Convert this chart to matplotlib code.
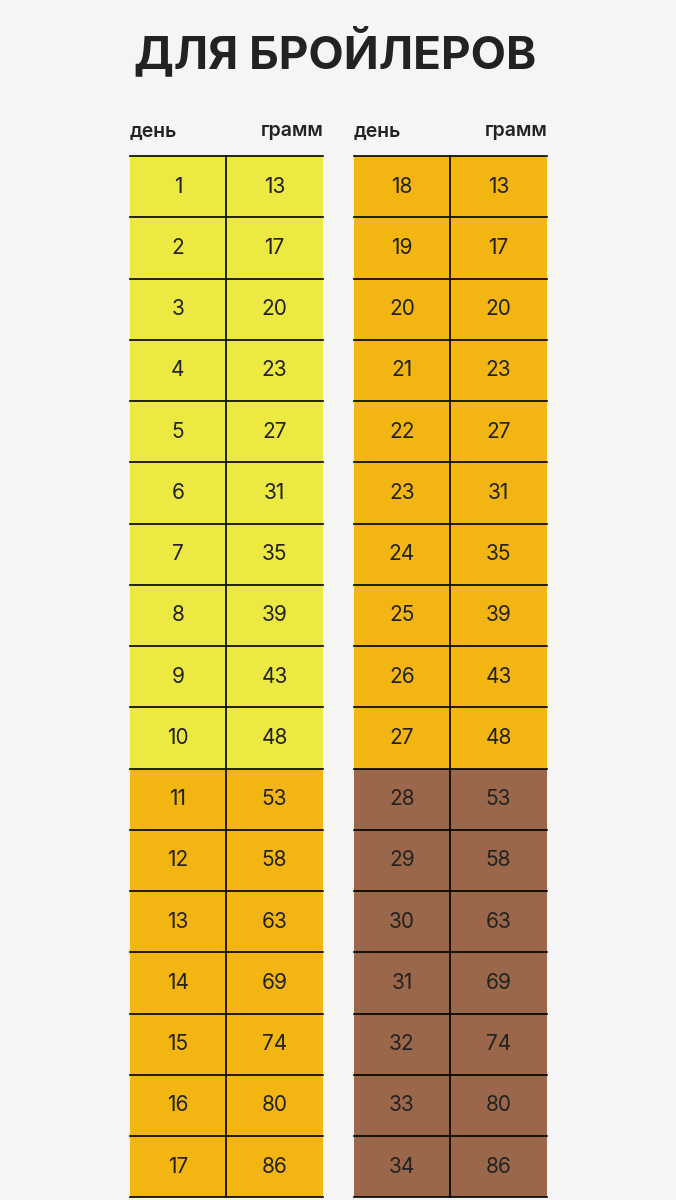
import matplotlib.pyplot as plt
from matplotlib.patches import Rectangle

days_left = list(range(1, 18))
days_right = list(range(18, 35))
grams = [13, 17, 20, 23, 27, 31, 35, 39, 43, 48, 53, 58, 63, 69, 74, 80, 86]
colors_left = ['#ECE942'] * 10 + ['#F2B511'] * 7
colors_right = ['#F2B511'] * 10 + ['#9A674A'] * 7

W, H = 676, 1200
fig = plt.figure(figsize=(W / 100, H / 100), dpi=100)
fig.patch.set_facecolor('#F5F5F5')
ax = fig.add_axes([0, 0, 1, 1])
ax.set_xlim(0, W)
ax.set_ylim(H, 0)
ax.axis('off')

plt.rcParams['font.family'] = ['Inter', 'DejaVu Sans']

ax.text(335, 52, 'ДЛЯ БРОЙЛЕРОВ', ha='center', va='center', fontsize=33, fontweight='bold', color='#222222')

top = 156
row_h = 61.25

def draw_table(x0, days, colors):
    mid = x0 + 96
    x1 = x0 + 193
    ax.text(x0, 131, 'день', ha='left', va='center', fontsize=14, fontweight='semibold', color='#222222')
    ax.text(x1, 131, 'грамм', ha='right', va='center', fontsize=14, fontweight='semibold', color='#222222')
    for i, (d, g, c) in enumerate(zip(days, grams, colors)):
        y = top + i * row_h
        ax.add_patch(Rectangle((x0, y), x1 - x0, row_h, facecolor=c, edgecolor='none'))
        ax.plot([x0, x1], [y, y], color='black', lw=1.2)
        ax.text((x0 + mid) / 2, y + row_h / 2, str(d), ha='center', va='center', fontsize=15, color='#222222')
        ax.text((mid + x1) / 2, y + row_h / 2, str(g), ha='center', va='center', fontsize=15, color='#222222')
    ax.plot([x0, x1], [top + len(days) * row_h] * 2, color='black', lw=1.2)
    ax.plot([mid, mid], [top, top + len(days) * row_h], color='black', lw=1.2)

draw_table(130, days_left, colors_left)
draw_table(354, days_right, colors_right)

fig.savefig('out.png', dpi=100, facecolor=fig.get_facecolor())
